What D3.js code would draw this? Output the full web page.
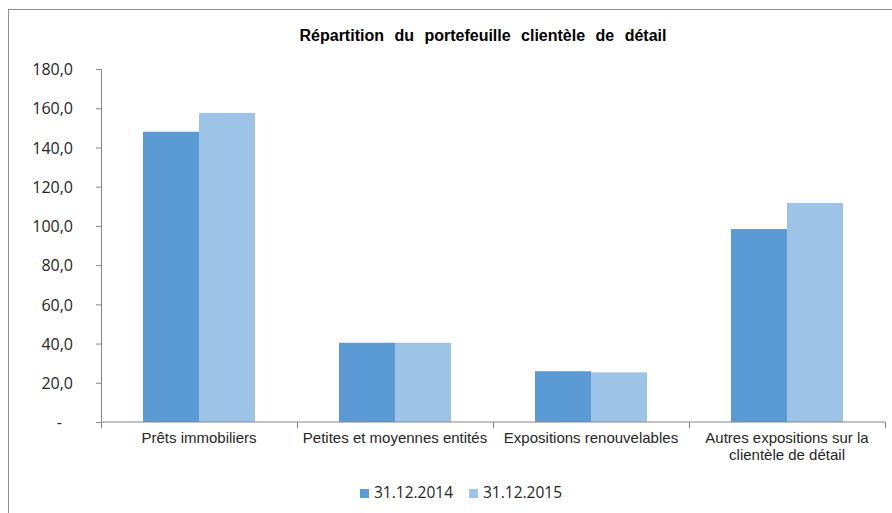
<!DOCTYPE html>
<html>
<head>
<meta charset="utf-8">
<script src="https://cdnjs.cloudflare.com/ajax/libs/d3/7.8.5/d3.min.js"></script>
<style>
  html, body { margin: 0; padding: 0; background: #fff; overflow: hidden; }
  svg { display: block; }
</style>
</head>
<body>
<div id="chart"></div>
<script>
// Données du graphique
const categories = [
  "Prêts immobiliers",
  "Petites et moyennes entités",
  "Expositions renouvelables",
  "Autres expositions sur la clientèle de détail"
];
const seriesNames = ["31.12.2014", "31.12.2015"];
const values2014 = [148.0, 40.4, 25.9, 98.4];
const values2015 = [157.6, 40.4, 25.3, 111.7];
const yTicks = [0, 20, 40, 60, 80, 100, 120, 140, 160, 180];
const yTickLabels = ["-", "20,0", "40,0", "60,0", "80,0", "100,0", "120,0", "140,0", "160,0", "180,0"];
const colors = ["#5b9bd5", "#9dc3e6"];

const width = 892, height = 513;
const plot = { left: 101, right: 885, top: 69, bottom: 422 };

const svg = d3.select("#chart").append("svg")
  .attr("width", width)
  .attr("height", height);

// cadre du graphique (coupé à droite et en bas comme l'original)
svg.append("rect")
  .attr("x", 8.5).attr("y", 9.5)
  .attr("width", 1000).attr("height", 1000)
  .attr("fill", "#fff")
  .attr("stroke", "#8c8c8c")
  .attr("stroke-width", 1);

svg.append("text")
  .attr("x", 483).attr("y", 41)
  .attr("text-anchor", "middle")
  .attr("font-family", "Liberation Sans, Arial, sans-serif")
  .attr("font-weight", "bold")
  .attr("font-size", 16)
  .attr("word-spacing", 6)
  .attr("fill", "#000")
  .text("Répartition du portefeuille clientèle de détail");

// Echelles
const x0 = d3.scaleBand()
  .domain(categories)
  .range([plot.left, plot.right])
  .paddingInner(0).paddingOuter(0);

const x1 = d3.scaleBand()
  .domain(seriesNames)
  .range([0, x0.bandwidth()])
  .paddingInner(0).paddingOuter(0.75);

const y = d3.scaleLinear()
  .domain([0, 180])
  .range([plot.bottom, plot.top]);

const rows = categories.map((c, i) => ({
  category: c,
  values: [
    { series: seriesNames[0], value: values2014[i] },
    { series: seriesNames[1], value: values2015[i] }
  ]
}));

// Barres
const groups = svg.append("g").selectAll("g")
  .data(rows)
  .enter().append("g")
  .attr("transform", d => `translate(${x0(d.category)},0)`);

groups.selectAll("rect")
  .data(d => d.values)
  .enter().append("rect")
  .attr("x", d => x1(d.series))
  .attr("y", d => y(d.value))
  .attr("width", x1.bandwidth())
  .attr("height", d => y(0) - y(d.value))
  .attr("fill", (d, i) => colors[i]);

// Axe Y
const yAxis = svg.append("g")
  .attr("transform", `translate(${plot.left},0)`)
  .call(d3.axisLeft(y)
    .tickValues(yTicks)
    .tickSize(5)
    .tickPadding(23)
    .tickFormat((d, i) => yTickLabels[i]));

yAxis.select(".domain").attr("stroke", "#868686");
yAxis.selectAll(".tick line").attr("stroke", "#868686");
yAxis.selectAll(".tick text")
  .attr("font-family", "Open Sans, sans-serif")
  .attr("font-size", 16)
  .attr("fill", "#262626")
  .attr("dy", "0.36em");
yAxis.selectAll(".tick text")
  .filter(d => d === 0)
  .attr("dx", -11);

// Axe X
const xAxis = svg.append("g")
  .attr("transform", `translate(0,${plot.bottom})`)
  .call(d3.axisBottom(x0).tickSize(0).tickPadding(10));

xAxis.select(".domain").remove();
xAxis.append("line")
  .attr("x1", plot.left).attr("x2", plot.right)
  .attr("stroke", "#868686");

const bounds = categories.map(c => x0(c)).concat([x0.range()[1]]);
xAxis.selectAll(".bound")
  .data(bounds)
  .enter().append("line")
  .attr("class", "bound")
  .attr("x1", d => d + 0.5).attr("x2", d => d + 0.5)
  .attr("y1", 0).attr("y2", 6)
  .attr("stroke", "#868686");

xAxis.selectAll(".tick text")
  .attr("font-family", "Liberation Sans, Arial, sans-serif")
  .attr("font-size", 15)
  .attr("fill", "#262626")
  .call(wrap, x0.bandwidth() - 4);

function wrap(sel, w) {
  sel.each(function() {
    const t = d3.select(this);
    const words = t.text().split(/\s+/);
    t.text(null);
    let line = [];
    let tspan = t.append("tspan").attr("x", 0).attr("dy", "0.71em");
    words.forEach(word => {
      line.push(word);
      tspan.text(line.join(" "));
      if (tspan.node().getComputedTextLength() > w && line.length > 1) {
        line.pop();
        tspan.text(line.join(" "));
        line = [word];
        tspan = t.append("tspan").attr("x", 0).attr("dy", 17).text(word);
      }
    });
  });
}

// Légende
const legend = svg.append("g");
const legendX = [360, 469];
seriesNames.forEach((s, i) => {
  legend.append("rect")
    .attr("x", legendX[i]).attr("y", 489)
    .attr("width", 9).attr("height", 9)
    .attr("fill", colors[i]);
  legend.append("text")
    .attr("x", legendX[i] + 14).attr("y", 498)
    .attr("font-family", "Open Sans, sans-serif")
    .attr("font-size", 15.5)
    .attr("fill", "#262626")
    .text(s);
});
</script>
</body>
</html>
